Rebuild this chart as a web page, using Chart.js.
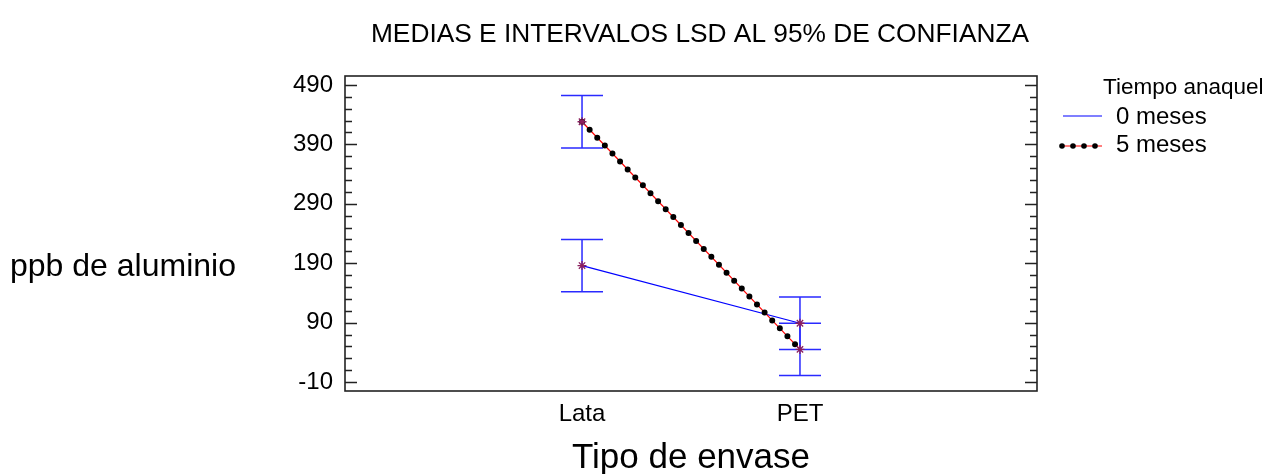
<!DOCTYPE html>
<html>
<head>
<meta charset="utf-8">
<script src="https://cdn.jsdelivr.net/npm/chart.js@4/dist/chart.umd.min.js"></script>
<style>
  html, body { margin: 0; padding: 0; background: #fff; }
  canvas { display: block; }
</style>
</head>
<body>
<canvas id="c" width="1267" height="474"></canvas>
<script>
// Means and 95% LSD intervals of aluminium content by container type
const categories = ['Lata', 'PET'];
const seriesNames = ['0 meses', '5 meses'];
const legendTitle = 'Tiempo anaquel';
const mean0 = [186, 89];
const lower0 = [142, 45];
const upper0 = [230, 133];
const mean5 = [428, 45];
const lower5 = [384, 1];
const upper5 = [472, 89];
const yTickValues = [-10, 90, 190, 290, 390, 490];

const FONT = "'Liberation Sans', Arial, Helvetica, sans-serif";
const BLUE = '#0000ff';
const BAR_BLUE = '#2a2aff';
const RED = '#ff0000';
const MARK = '#8b1f5e';

const pts = arr => arr.map((v, i) => ({ x: i, y: v }));

// vertical LSD bars with caps, drawn under the lines
const intervalBars = {
  id: 'intervalBars',
  beforeDatasetsDraw(chart) {
    const { ctx, scales: { x, y } } = chart;
    ctx.save();
    ctx.strokeStyle = BAR_BLUE;
    ctx.lineWidth = 1.5;
    [[lower0, upper0], [lower5, upper5]].forEach(([lo, hi]) => {
      lo.forEach((l, i) => {
        const cx = x.getPixelForValue(i);
        const yl = y.getPixelForValue(l);
        const yh = y.getPixelForValue(hi[i]);
        const half = 21;
        ctx.beginPath();
        ctx.moveTo(cx, yl); ctx.lineTo(cx, yh);
        ctx.moveTo(cx - half, yl); ctx.lineTo(cx + half, yl);
        ctx.moveTo(cx - half, yh); ctx.lineTo(cx + half, yh);
        ctx.stroke();
      });
    });
    ctx.restore();
  }
};

// frame, inward ticks, titles and legend
const decorations = {
  id: 'decorations',
  afterDraw(chart) {
    const { ctx, chartArea: a, scales: { y } } = chart;
    ctx.save();
    // ticks on both vertical sides, pointing into the plot
    ctx.strokeStyle = '#222';
    ctx.lineWidth = 1.5;
    ctx.beginPath();
    for (let v = yTickValues[0]; v <= y.max; v += 20) {
      if (v < y.min) continue;
      const isMajor = yTickValues.includes(v);
      const len = isMajor ? 12 : 7;
      const py = Math.round(y.getPixelForValue(v)) + 0.5;
      ctx.moveTo(a.left, py); ctx.lineTo(a.left + len, py);
      ctx.moveTo(a.right, py); ctx.lineTo(a.right - len, py);
    }
    ctx.stroke();
    // plot frame
    ctx.lineWidth = 1.6;
    ctx.strokeRect(a.left, a.top, a.right - a.left, a.bottom - a.top);

    ctx.fillStyle = '#000';
    ctx.textBaseline = 'alphabetic';
    // chart title
    ctx.font = '26.3px ' + FONT;
    ctx.textAlign = 'center';
    ctx.fillText('MEDIAS E INTERVALOS LSD AL 95% DE CONFIANZA', 700, 42);
    // axis titles
    ctx.font = '35px ' + FONT;
    ctx.fillText('Tipo de envase', (a.left + a.right) / 2, 468);
    ctx.font = '32px ' + FONT;
    ctx.textAlign = 'left';
    ctx.fillText('ppb de aluminio', 10, 276);

    // legend
    ctx.font = '22.5px ' + FONT;
    ctx.fillText(legendTitle, 1103, 94);
    ctx.font = '24px ' + FONT;
    const ds = chart.data.datasets;
    const line0 = ds.find(d => d.label === seriesNames[0]);
    const red5 = ds.find(d => d.label === seriesNames[1] && d.showLine !== false && !d.borderDash);
    const dots5 = ds.find(d => d.label === seriesNames[1] && d.borderDash);
    // row 0
    ctx.strokeStyle = line0.borderColor;
    ctx.lineWidth = line0.borderWidth;
    ctx.beginPath(); ctx.moveTo(1063, 116); ctx.lineTo(1102, 116); ctx.stroke();
    ctx.fillText(seriesNames[0], 1116, 124);
    // row 1
    ctx.strokeStyle = red5.borderColor;
    ctx.lineWidth = red5.borderWidth;
    ctx.beginPath(); ctx.moveTo(1060, 146); ctx.lineTo(1102, 146); ctx.stroke();
    ctx.fillStyle = dots5.borderColor;
    [1062, 1073, 1084, 1095].forEach(dx => {
      ctx.beginPath(); ctx.arc(dx, 146, 2.8, 0, Math.PI * 2); ctx.fill();
    });
    ctx.fillStyle = '#000';
    ctx.fillText(seriesNames[1], 1116, 152);
    ctx.restore();
  }
};

new Chart(document.getElementById('c'), {
  type: 'line',
  data: {
    datasets: [
      { // markers of the 5-month means (drawn on top)
        label: seriesNames[1], data: pts(mean5), showLine: false,
        pointStyle: 'star', pointRadius: 4.5, pointBorderColor: MARK,
        pointBorderWidth: 1.3, pointBackgroundColor: MARK
      },
      { // black dotted trace of the 5-month means
        label: seriesNames[1], data: pts(mean5), borderColor: '#000',
        borderWidth: 6, borderDash: [0, 11], borderCapStyle: 'round',
        pointRadius: 0, tension: 0
      },
      { // red connecting line of the 5-month means
        label: seriesNames[1], data: pts(mean5), borderColor: RED,
        borderWidth: 1.2, pointRadius: 0, tension: 0
      },
      { // 0-month means
        label: seriesNames[0], data: pts(mean0), borderColor: BLUE,
        borderWidth: 1.2, tension: 0,
        pointStyle: 'star', pointRadius: 4.5, pointBorderColor: MARK,
        pointBorderWidth: 1.3, pointBackgroundColor: MARK
      }
    ]
  },
  options: {
    responsive: false,
    animation: false,
    devicePixelRatio: 1,
    layout: { padding: { left: 0, top: 76, right: 230, bottom: 0 } },
    plugins: { legend: { display: false }, title: { display: false }, tooltip: { enabled: false } },
    scales: {
      x: {
        type: 'linear', min: -1.0875, max: 2.0875,
        afterBuildTicks: s => { s.ticks = categories.map((_, i) => ({ value: i })); },
        afterFit: s => { s.height = 83; },
        grid: { display: false, drawTicks: false },
        border: { display: false },
        ticks: {
          autoSkip: false, maxRotation: 0, padding: 9, color: '#000',
          font: { family: FONT, size: 24 },
          callback: v => categories[v] ?? ''
        }
      },
      y: {
        type: 'linear', min: -25, max: 505,
        afterBuildTicks: s => { s.ticks = yTickValues.map(v => ({ value: v })); },
        afterFit: s => { s.width = 345; },
        grid: { display: false, drawTicks: false },
        border: { display: false },
        ticks: {
          padding: 12, color: '#000',
          font: { family: FONT, size: 24 }
        }
      }
    }
  },
  plugins: [intervalBars, decorations]
});
</script>
</body>
</html>
